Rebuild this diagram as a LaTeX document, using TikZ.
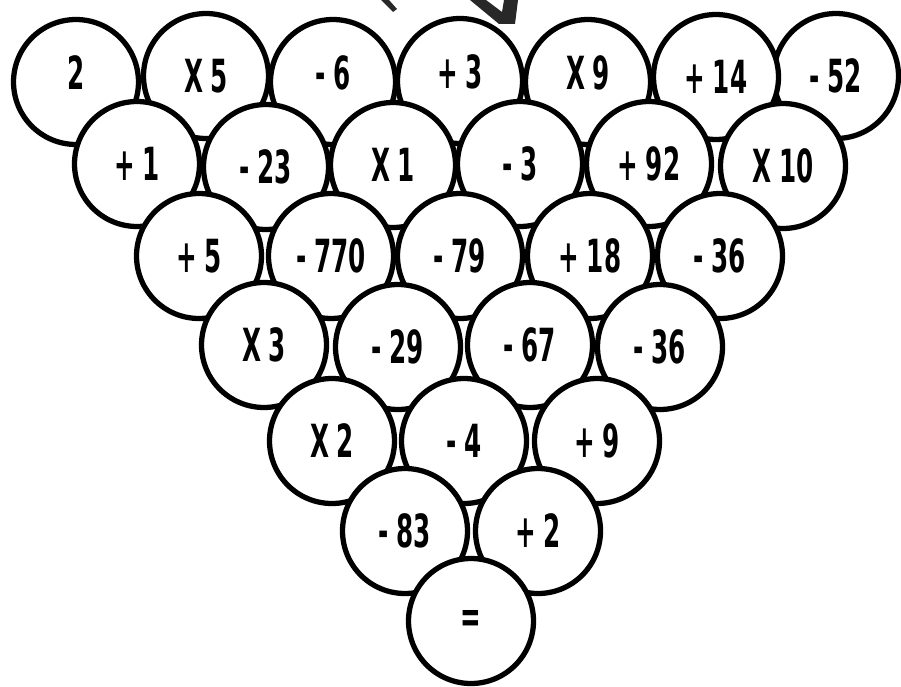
\documentclass[tikz,border=0pt]{standalone}
\usepackage{fontspec}
\usepackage{tikz}
\newfontfamily\puzzlefont{DejaVu Sans Condensed}[FakeStretch=0.6]
\definecolor{inkgray}{RGB}{40, 40, 40}

\begin{document}
\begin{tikzpicture}[
						x=0.02cm, y=-0.02cm,
						ball/.style={circle, draw, line width=3pt, fill=white, minimum size=2.5cm, inner sep=0pt, font=\puzzlefont\bfseries\fontsize{26}{26}\selectfont},
						lifted/.style={text depth=0.36cm},
						ink/.style={fill=inkgray}
					]
					\useasboundingbox (0,0) rectangle (901,686);

					% Cut-off marks at the top
					\fill[ink] (381,0) -- (389,0) -- (397,9) -- (393,12) -- cycle;
					\fill[ink] (470,0) -- (486,0) -- (502,12) -- (504,0) -- (518,0) -- (515,24) -- (499,24) -- cycle;

					% Row 1
					\node[ball, lifted] (a1) at (76,82) {2};
					\node[ball] (a2) at (206,76) {X\,5};
					\node[ball, lifted] (a3) at (333,82) {-\,6};
					\node[ball, lifted] (a4) at (460,81) {+\,3};
					\node[ball, lifted] (a5) at (588,82) {X\,9};
					\node[ball] (a7) at (836,76) {-\,52};
					\node[ball] (a6) at (716,77) {+\,14};

					% Row 2
					\node[ball] (b1) at (137,164) {+\,1};
					\node[ball] (b2) at (266,167) {-\,23};
					\node[ball] (b3) at (393,165) {X\,1};
					\node[ball] (b4) at (520,164) {-\,3};
					\node[ball] (b5) at (649,164) {+\,92};
					\node[ball] (b6) at (783,166) {X\,10};

					% Row 3
					\node[ball] (c1) at (199,256) {+\,5};
					\node[ball] (c2) at (331,256) {-\,770};
					\node[ball] (c3) at (460,256) {-\,79};
					\node[ball] (c4) at (590,256) {+\,18};
					\node[ball] (c5) at (720,256) {-\,36};

					% Row 4
					\node[ball] (d1) at (264,345) {X\,3};
					\node[ball] (d2) at (398,347) {-\,29};
					\node[ball] (d3) at (530,345) {-\,67};
					\node[ball] (d4) at (660,347) {-\,36};

					% Row 5
					\node[ball] (e1) at (332,441) {X\,2};
					\node[ball] (e2) at (464,441) {-\,4};
					\node[ball] (e3) at (597,441) {+\,9};

					% Row 6
					\node[ball] (f1) at (405,531) {-\,83};
					\node[ball] (f2) at (538,531) {+\,2};

					% Result
					\node[ball] (g1) at (471,621) {=};
				\end{tikzpicture}
\end{document}
